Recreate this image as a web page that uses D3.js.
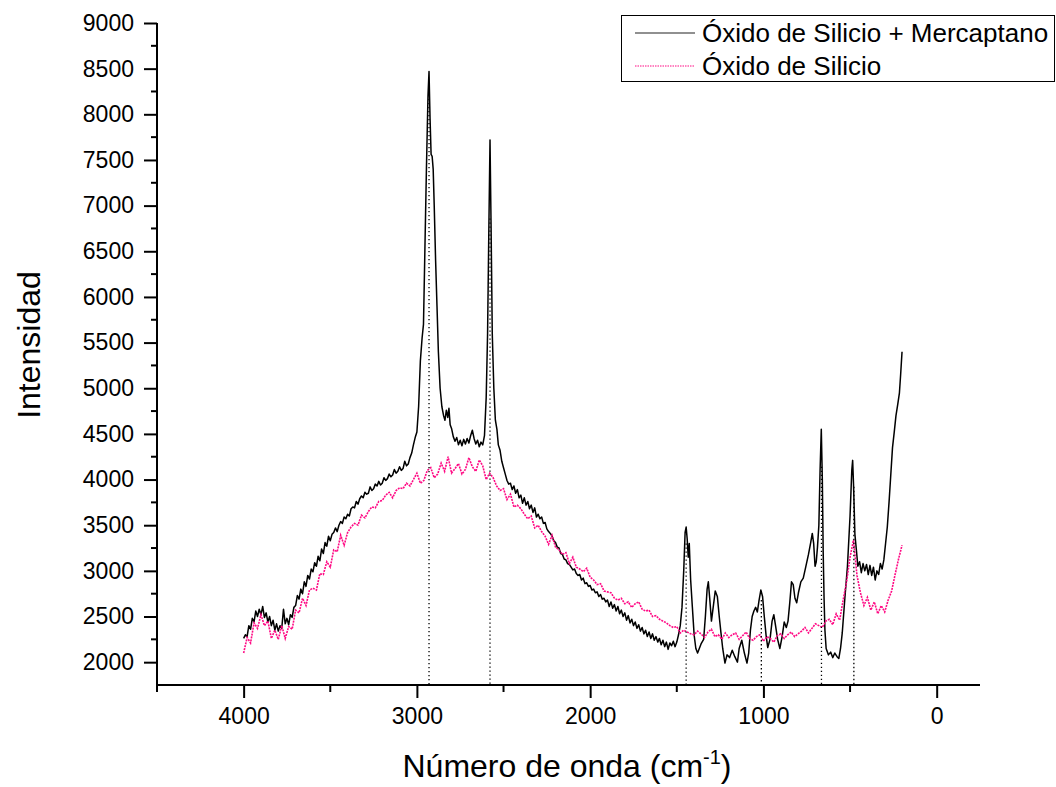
<!DOCTYPE html>
<html>
<head>
<meta charset="utf-8">
<script src="https://cdn.jsdelivr.net/npm/d3@7"></script>
<style>
  body { margin: 0; background: #fff; }
  svg { display: block; }
  text { font-family: "Liberation Sans", Arial, sans-serif; fill: #000; }
</style>
</head>
<body>
<svg id="chart" width="1056" height="787"></svg>
<script>
// ---------- DATA ----------
const seriesNames = ["Óxido de Silicio + Mercaptano", "Óxido de Silicio"];
const xTickValues = [4000, 3000, 2000, 1000, 0];
const yTickValues = [2000, 2500, 3000, 3500, 4000, 4500, 5000, 5500, 6000, 6500, 7000, 7500, 8000, 8500, 9000];

// Óxido de Silicio + Mercaptano : [wavenumber, intensity]
const mercaptano = [
[4000,2260],[3990,2300],[3980,2280],[3970,2400],[3960,2360],[3950,2480],[3940,2440],[3930,2560],[3920,2500],[3910,2580],
[3900,2520],[3890,2610],[3880,2490],[3870,2540],[3860,2440],[3850,2500],[3840,2400],[3830,2460],[3820,2350],[3810,2420],
[3800,2340],[3790,2400],[3780,2370],[3770,2580],[3760,2420],[3750,2480],[3740,2410],[3730,2520],[3720,2490],[3710,2600],
[3700,2620],[3690,2730],[3680,2690],[3670,2800],[3660,2750],[3650,2880],[3640,2830],[3630,2950],[3620,2910],[3610,3020],
[3600,2990],[3590,3090],[3580,3050],[3570,3160],[3560,3110],[3550,3240],[3540,3190],[3530,3310],[3520,3270],[3510,3380],
[3500,3330],[3490,3400],[3480,3420],[3470,3470],[3460,3430],[3450,3500],[3440,3540],[3430,3520],[3420,3590],[3410,3570],
[3400,3620],[3390,3600],[3380,3680],[3370,3700],[3360,3690],[3350,3760],[3340,3730],[3330,3790],[3320,3820],[3310,3800],
[3300,3860],[3290,3840],[3280,3850],[3270,3920],[3260,3880],[3250,3900],[3240,3950],[3230,3930],[3220,3980],[3210,3940],
[3200,3960],[3190,4020],[3180,3990],[3170,4010],[3160,4060],[3150,4030],[3140,4050],[3130,4110],[3120,4070],[3110,4090],
[3100,4140],[3090,4100],[3080,4120],[3070,4200],[3060,4150],[3050,4170],[3040,4240],[3030,4290],[3020,4380],[3010,4460],
[3000,4520],[2990,4800],[2980,5300],[2970,5550],[2962,5700],[2955,6400],[2945,7400],[2936,8200],[2930,8470],[2924,7950],
[2918,7560],[2912,7540],[2906,7400],[2900,7000],[2892,6400],[2884,5900],[2876,5400],[2866,5000],[2856,4800],[2846,4700],
[2838,4650],[2830,4760],[2822,4680],[2815,4780],[2808,4600],[2800,4560],[2790,4470],[2780,4420],[2770,4460],[2760,4380],
[2750,4430],[2740,4370],[2730,4440],[2720,4390],[2710,4450],[2700,4400],[2690,4480],[2680,4540],[2670,4450],[2660,4390],
[2650,4430],[2640,4360],[2630,4410],[2620,4380],[2610,4480],[2600,4900],[2592,5600],[2585,6700],[2578,7720],[2572,6800],
[2565,5600],[2556,5000],[2547,4650],[2538,4550],[2530,4380],[2520,4320],[2510,4200],[2500,4130],[2490,4060],[2480,3990],
[2470,3950],[2460,3960],[2450,3890],[2440,3930],[2430,3850],[2420,3890],[2410,3800],[2400,3830],[2390,3740],[2380,3800],
[2370,3720],[2360,3760],[2350,3680],[2340,3720],[2330,3640],[2320,3690],[2310,3590],[2300,3620],[2290,3570],[2280,3590],
[2270,3520],[2260,3530],[2250,3460],[2240,3430],[2230,3410],[2220,3380],[2210,3330],[2200,3310],[2190,3260],[2180,3250],
[2170,3190],[2160,3180],[2150,3130],[2140,3120],[2130,3080],[2120,3070],[2110,3040],[2100,3010],[2090,3020],[2080,2970],
[2070,2950],[2060,2960],[2050,2900],[2040,2920],[2030,2860],[2020,2870],[2010,2830],[2000,2840],[1990,2790],[1980,2800],
[1970,2760],[1960,2770],[1950,2720],[1940,2740],[1930,2690],[1920,2700],[1910,2660],[1900,2680],[1890,2610],[1880,2660],
[1870,2590],[1860,2630],[1850,2560],[1840,2610],[1830,2530],[1820,2570],[1810,2500],[1800,2540],[1790,2460],[1780,2510],
[1770,2430],[1760,2470],[1750,2400],[1740,2440],[1730,2370],[1720,2410],[1710,2340],[1700,2380],[1690,2310],[1680,2350],
[1670,2280],[1660,2330],[1650,2260],[1640,2310],[1630,2240],[1620,2280],[1610,2220],[1600,2260],[1590,2190],[1580,2240],
[1570,2170],[1560,2220],[1550,2140],[1540,2210],[1530,2180],[1520,2230],[1510,2170],[1500,2220],[1490,2300],[1480,2400],
[1470,2600],[1460,3000],[1452,3420],[1446,3480],[1440,3350],[1434,3150],[1428,3300],[1420,2900],[1410,2600],[1400,2300],
[1390,2150],[1380,2100],[1370,2150],[1360,2200],[1345,2250],[1335,2500],[1325,2800],[1318,2880],[1310,2700],[1300,2450],
[1290,2600],[1278,2780],[1266,2720],[1255,2500],[1245,2320],[1235,2150],[1222,1990],[1210,2080],[1195,2050],[1180,2130],
[1165,2060],[1150,2000],[1140,2150],[1125,2240],[1110,2100],[1095,1990],[1085,2100],[1075,2350],[1065,2500],[1055,2560],
[1045,2600],[1035,2550],[1025,2680],[1015,2790],[1005,2720],[995,2500],[985,2300],[975,2160],[962,2250],[950,2450],
[940,2520],[930,2400],[918,2250],[905,2150],[892,2280],[880,2440],[868,2380],[858,2450],[848,2650],[838,2880],
[828,2850],[818,2700],[808,2650],[798,2760],[784,2880],[770,2920],[755,3050],[740,3180],[728,3300],[718,3410],
[710,3300],[702,3050],[695,3100],[688,3260],[680,3500],[673,4100],[666,4550],[660,4000],[655,3200],[650,2700],
[645,2350],[638,2150],[625,2080],[612,2110],[600,2050],[588,2100],[575,2060],[565,2040],[555,2150],[545,2320],
[530,2700],[515,3050],[500,3600],[490,4100],[485,4210],[480,3950],[472,3400],[463,3220],[455,3050],[445,3100],
[435,2980],[425,3080],[415,3000],[405,3070],[395,2960],[385,3060],[375,2950],[365,3040],[355,2900],[345,3000],
[335,2960],[325,3080],[315,3020],[305,3120],[295,3300],[285,3480],[275,3750],[265,4050],[255,4350],[245,4520],
[235,4700],[225,4820],[215,4950],[208,5150],[200,5400]
];

// Óxido de Silicio : wavenumbers 4000 -> 200 every 20 cm-1
const silicioStart = 4000, silicioStep = -20;
const silicio = [
2100,2270,2210,2430,2370,2520,2400,2450,2260,2350,
2250,2400,2260,2390,2360,2570,2540,2700,2620,2790,
2810,2790,2970,2960,3100,3040,3230,3210,3390,3280,
3420,3480,3520,3500,3610,3580,3650,3700,3690,3760,
3770,3830,3860,3800,3880,3910,3900,3960,3930,4000,
4070,3960,3990,4100,4130,4020,4060,4180,4090,4250,
4070,4120,4175,4060,4110,4240,4140,4090,4215,4150,
4000,4070,4020,3930,3880,3900,3780,3840,3700,3720,
3680,3620,3570,3600,3470,3500,3430,3380,3290,3390,
3260,3230,3180,3200,3080,3150,3040,3020,2990,3030,
2930,2900,2850,2860,2780,2770,2760,2700,2680,2700,
2640,2660,2600,2640,2660,2580,2560,2570,2500,2510,
2470,2450,2430,2400,2380,2390,2320,2350,2330,2310,
2300,2340,2310,2270,2330,2360,2280,2300,2250,2320,
2270,2300,2320,2250,2290,2330,2260,2240,2280,2300,
2230,2280,2260,2220,2290,2310,2260,2300,2330,2280,
2310,2340,2380,2320,2370,2420,2400,2380,2450,2470,
2410,2530,2460,2680,2880,3150,3340,2950,2760,2620,
2710,2570,2660,2530,2620,2550,2680,2780,2960,3130,
3280
];

// dotted drop lines: [wavenumber, top intensity]
const dropLines = [[2930,8300],[2578,6860],[1446,3300],[1012,2680],[665,4140],[478,3920]];

// ---------- CHART ----------
const svg = d3.select("#chart");
const x = d3.scaleLinear().domain([4500, -250]).range([157, 980]);
const y = d3.scaleLinear().domain([1750, 9000]).range([685, 23]);

const pink = "#ff0a84";

// Bottom axis
const xMinor = d3.range(4500, -1, -500).filter(v => v % 1000 !== 0);
const gx = svg.append("g").attr("transform", "translate(0,685)");
gx.append("line").attr("x1", 157).attr("x2", 980).attr("stroke", "#000").attr("stroke-width", 2);
gx.call(g => {
  const ax = d3.axisBottom(x).tickValues(xTickValues).tickSize(13).tickPadding(10).tickFormat(d3.format("d"));
  g.call(ax);
  g.select(".domain").remove();
  g.selectAll(".tick line").attr("stroke-width", 2);
  g.selectAll(".tick text").attr("font-size", 23).attr("font-family", "Liberation Sans, Arial, sans-serif");
});
gx.selectAll(".minor").data(xMinor).enter().append("line")
  .attr("x1", d => x(d)).attr("x2", d => x(d)).attr("y1", 0).attr("y2", 7)
  .attr("stroke", "#000").attr("stroke-width", 2);

// Left axis
const yMinor = d3.range(2250, 9000, 500);
const gy = svg.append("g").attr("transform", "translate(157,0)");
gy.append("line").attr("y1", 23).attr("y2", 686).attr("stroke", "#000").attr("stroke-width", 2);
gy.call(g => {
  const ax = d3.axisLeft(y).tickValues(yTickValues).tickSize(13).tickPadding(10).tickFormat(d3.format("d"));
  g.call(ax);
  g.select(".domain").remove();
  g.selectAll(".tick line").attr("stroke-width", 2);
  g.selectAll(".tick text").attr("font-size", 23).attr("font-family", "Liberation Sans, Arial, sans-serif");
});
gy.selectAll(".minor").data(yMinor).enter().append("line")
  .attr("x1", -6).attr("x2", 0).attr("y1", d => y(d)).attr("y2", d => y(d))
  .attr("stroke", "#000").attr("stroke-width", 2);

// Series
const line = d3.line().x(d => x(d[0])).y(d => y(d[1]));
svg.append("path").datum(mercaptano).attr("d", line)
  .attr("fill", "none").attr("stroke", "#000").attr("stroke-width", 1.5).attr("stroke-linejoin", "round");

const silicioPts = silicio.map((v, i) => [silicioStart + i * silicioStep, v]);
svg.append("path").datum(silicioPts).attr("d", line)
  .attr("fill", "none").attr("stroke", pink).attr("stroke-width", 1.6)
  .attr("stroke-dasharray", "2,1");

// Drop lines
svg.selectAll(".drop").data(dropLines).enter().append("line")
  .attr("x1", d => x(d[0])).attr("x2", d => x(d[0]))
  .attr("y1", d => y(d[1])).attr("y2", 685)
  .attr("stroke", "#000").attr("stroke-width", 1.3).attr("stroke-dasharray", "1.3,2.7");

// Axis titles
svg.append("text").attr("transform", "translate(40,345) rotate(-90)")
  .attr("text-anchor", "middle").attr("font-size", 32).text("Intensidad");

const xt = svg.append("text").attr("x", 567).attr("y", 777).attr("text-anchor", "middle").attr("font-size", 32);
xt.append("tspan").text("Número de onda (cm");
xt.append("tspan").attr("dy", -13).attr("font-size", 20).text("-1");
xt.append("tspan").attr("dy", 13).text(")");

// Legend
const lg = svg.append("g");
lg.append("rect").attr("x", 621.5).attr("y", 15.5).attr("width", 433).attr("height", 66)
  .attr("fill", "#fff").attr("stroke", "#000").attr("stroke-width", 1);
const legendItems = [
  {name: seriesNames[0], color: "#222", dash: null},
  {name: seriesNames[1], color: pink, dash: "1.5,1"}
];
legendItems.forEach((it, i) => {
  const cy = 33 + i * 33;
  lg.append("line").attr("x1", 635).attr("x2", 695).attr("y1", cy).attr("y2", cy)
    .attr("stroke", it.color).attr("stroke-width", 1.2).attr("stroke-dasharray", it.dash);
  lg.append("text").attr("x", 702).attr("y", cy).attr("dy", "0.35em")
    .attr("font-size", 26).text(it.name);
});
</script>
</body>
</html>
